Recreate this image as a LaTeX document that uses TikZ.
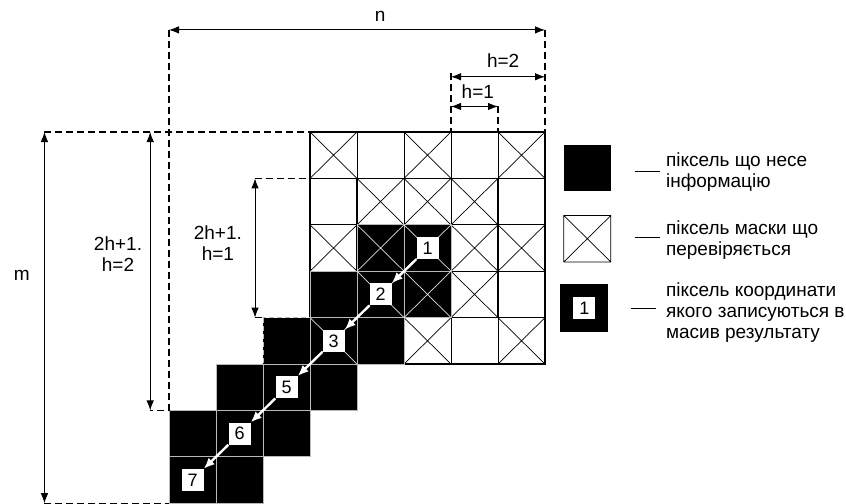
\documentclass[tikz,border=0pt]{standalone}
\usepackage{fontspec}
\setmainfont{Liberation Sans}
\usetikzlibrary{arrows.meta}

\begin{document}
\begin{tikzpicture}[x=47pt, y=-46.4pt, >={Latex[length=10pt,width=7.5pt]},
    font=\fontsize{19}{21}\selectfont,
    dim/.style={<->, line width=0.9pt},
    guide/.style={line width=1.4pt, dash pattern=on 7pt off 4pt},
    numbox/.style={fill=white, minimum size=22pt, inner sep=0pt, font=\fontsize{18}{18}\selectfont},
    walk/.style={-{Latex[length=11pt,width=9pt]}, white, line width=2.4pt}]
  \useasboundingbox (-6.596,-2.845) rectangle (11.404,8.017);
  % 5x5 window round the central pixel
  \foreach \c in {0,...,4}
    \foreach \r in {0,...,4}
      \draw[line width=0.7pt] (\c,\r) rectangle ++(1,1);
  \foreach \c/\r in {0/0,2/0,4/0,1/1,2/1,3/1,0/2,3/2,4/2,3/3,2/4,4/4}
    \draw[line width=0.7pt] (\c,\r) -- ++(1,1) (\c+1,\r) -- ++(-1,1);
  \draw[line width=1.2pt] (0,0) rectangle (5,5) (1,1) rectangle (4,4);
  % pixels that carry information
  \foreach \c/\r in {1/2,2/2,0/3,1/3,2/3,0/4,1/4,-2/5,-1/5,0/5,-3/6,-2/6,-1/6,-3/7,-2/7}
    \draw[fill=black, draw=gray!55, line width=0.7pt] (\c,\r) rectangle ++(1,1);
  \foreach \c/\r in {1/2,2/2,1/3,2/3,0/4}
    \draw[gray!25, line width=0.7pt] (\c,\r) -- ++(1,1) (\c+1,\r) -- ++(-1,1);
  \draw[fill=black, draw=gray!55, line width=1pt, dash pattern=on 5pt off 3pt] (-1,4) rectangle ++(1,1);
  % guide lines
  \draw[guide] (-5.65,0) -- (0,0);
  \draw[guide] (-3,-2.2) -- (-3,6) -- (-3.4,6);
  \draw[guide] (5,-2.2) -- (5,0);
  \draw[guide] (3,-1.27) -- (3,0);
  \draw[guide] (4,-0.55) -- (4,0);
  \draw[guide] (-5.65,8) -- (-3,8);
  \draw[guide] (-1.17,1) -- (0,1);
  \draw[guide] (-1.17,4) -- (-1,4);
  % dimensions
  \draw[dim] (-3,-2.2) -- (5,-2.2);
  \draw[dim] (3,-1.19) -- (5,-1.19);
  \draw[dim] (3,-0.55) -- (4,-0.55);
  \draw[dim] (-5.65,0) -- (-5.65,8);
  \draw[dim] (-3.4,0) -- (-3.4,6);
  \draw[dim] (-1.17,1) -- (-1.17,4);
  \node (lbn) at (1.49,-2.5) {n};
  \node (lbh2) at (4.11,-1.53) {h=2};
  \node (lbh1) at (3.57,-0.88) {h=1};
  \node (lbm) at (-6.13,3.08) {m};
  \node[align=center] (lbwin2) at (-4.085,2.63) {2h+1.\\h=2};
  \node[align=center] (lbwin1) at (-1.96,2.39) {2h+1.\\h=1};
  % order in which the pixels are taken
  \foreach \k/\c/\r in {1/2/2, 2/1/3, 3/0/4, 5/-1/5, 6/-2/6, 7/-3/7}
    \node[numbox] (p\k) at (\c+0.5,\r+0.5) {\k};
  \foreach \a/\b in {1/2, 2/3, 3/5, 5/6, 6/7}
    \draw[walk] (p\a.south west) -- (p\b.north east);
  % legend
  \fill (5.4,0.28) rectangle ++(1,1);
  \draw[line width=0.7pt] (5.4,1.8) rectangle ++(1,1) (5.4,1.8) -- ++(1,1) (6.4,1.8) -- ++(-1,1);
  \fill (5.32,3.27) rectangle ++(1.02,1.05);
  \node[numbox] (key1) at (5.84,3.8) {1};
  \draw[line width=1pt] (6.91,0.86) -- (7.45,0.86);
  \draw[line width=1pt] (6.91,2.28) -- (7.45,2.28);
  \draw[line width=1pt] (6.82,3.81) -- (7.36,3.81);
  \node[anchor=west, align=left] (txt1) at (7.5,0.86) {піксель що несе\\інформацію};
  \node[anchor=west, align=left] (txt2) at (7.5,2.32) {піксель маски що\\перевіряється};
  \node[anchor=west, align=left] (txt3) at (7.5,3.9) {піксель координати\\якого записуються в\\масив результату};
\end{tikzpicture}
\end{document}
